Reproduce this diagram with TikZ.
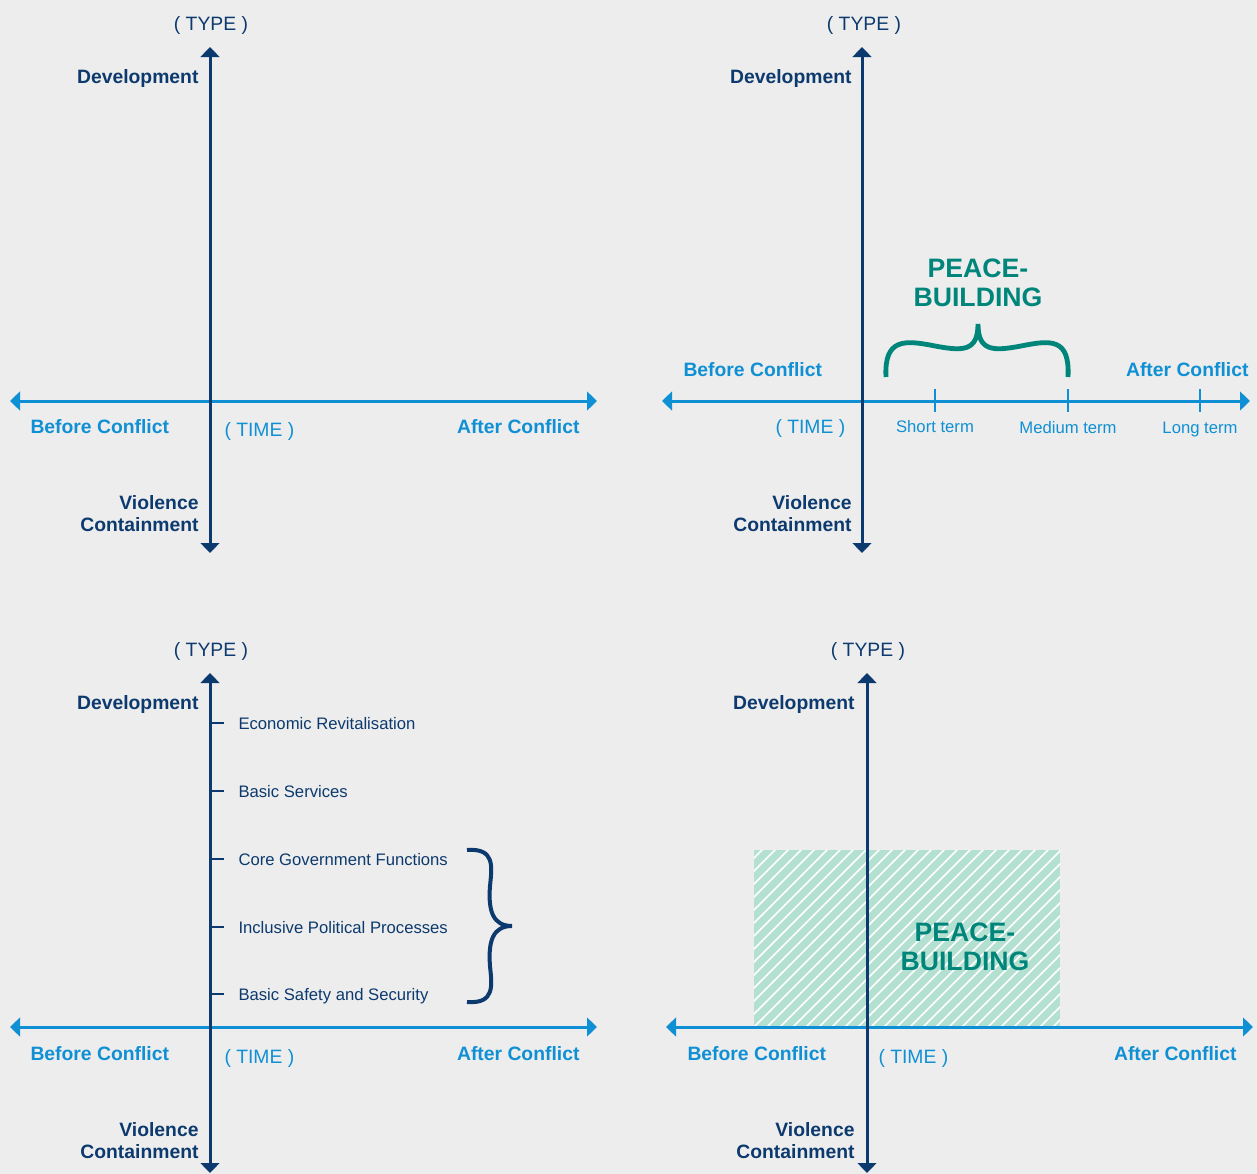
\documentclass[tikz,border=0pt]{standalone}
\usepackage{fontspec}
\setmainfont{Liberation Sans}
\usetikzlibrary{arrows.meta}

\definecolor{navy}{RGB}{13,58,110}
\definecolor{skyblue}{RGB}{16,144,212}
\definecolor{peaceteal}{RGB}{0,133,122}
\definecolor{hatchgreen}{RGB}{180,224,210}
\definecolor{bggray}{RGB}{237,237,237}

\tikzset{every picture/.style={line width=0.75pt}}
\tikzset{
  typeaxis/.style={draw=navy, line width=2.25pt, {Triangle[length=7.5pt,width=14pt]}-{Triangle[length=7.5pt,width=14pt]}},
  timeaxis/.style={draw=skyblue, line width=2.25pt, {Triangle[length=7.5pt,width=14pt]}-{Triangle[length=7.5pt,width=14pt]}},
  typelbl/.style={inner sep=0pt, text=navy, font=\fontsize{14.5}{16}\selectfont\bfseries, align=right},
  timelbl/.style={inner sep=0pt, text=skyblue, font=\fontsize{14.5}{16}\selectfont\bfseries},
  typename/.style={inner sep=0pt, text=navy, font=\fontsize{14.5}{16}\selectfont},
  timename/.style={inner sep=0pt, text=skyblue, font=\fontsize{14.5}{16}\selectfont},
  itemlbl/.style={inner sep=0pt, text=navy, font=\fontsize{12.5}{15}\selectfont},
  termlbl/.style={inner sep=0pt, text=skyblue, font=\fontsize{12.5}{15}\selectfont},
  peacelbl/.style={inner sep=0pt, text=peaceteal, font=\fontsize{20}{21.5}\selectfont\bfseries, align=center},
}

\begin{document}
\begin{tikzpicture}[x=0.75pt,y=0.75pt,yscale=-1,xscale=1]
\useasboundingbox (0,0) rectangle (1257,1174);
\fill [bggray] (0,0) rectangle (1257,1174);

%%%% Top left panel
\coordinate (hlA) at (10,401);
\coordinate (hrA) at (597,401);
\coordinate (vtA) at (210,47);
\coordinate (vbA) at (210,553);
\draw [timeaxis] (hlA) -- (hrA);
\draw [typeaxis] (vtA) -- (vbA);
% Text Node
\node (typeA) at (211,30) [anchor=base, typename] {( TYPE )};
\node (devA) at (199,83) [anchor=base east, typelbl] {Development};
\node (violA) at (199,531) [anchor=base east, typelbl] {Violence\\Containment};
\node (beforeA) at (30,433) [anchor=base west, timelbl] {Before Conflict};
\node (timeA) at (224,436) [anchor=base west, timename] {( TIME )};
\node (afterA) at (580,433) [anchor=base east, timelbl] {After Conflict};

%%%% Top right panel
\coordinate (hlB) at (662,401);
\coordinate (hrB) at (1250,401);
\coordinate (vtB) at (862,47);
\coordinate (vbB) at (862,553);
\draw [timeaxis] (hlB) -- (hrB);
\draw [typeaxis] (vtB) -- (vbB);
%Ticks
\draw [skyblue, line width=1.1pt] (935,389) -- (935,412);
\draw [skyblue, line width=1.1pt] (1068,389) -- (1068,412);
\draw [skyblue, line width=1.1pt] (1200,389) -- (1200,412);
%Brace
\draw [peaceteal, line width=3.6pt] (886,377) .. controls (884,338) and (905,340) .. (935,346) .. controls (962,351) and (978,352) .. (978,324) .. controls (978,352) and (994,351) .. (1021,346) .. controls (1051,340) and (1070,338) .. (1068,377);
% Text Node
\node (typeB) at (864,30) [anchor=base, typename] {( TYPE )};
\node (devB) at (852,83) [anchor=base east, typelbl] {Development};
\node (violB) at (852,531) [anchor=base east, typelbl] {Violence\\Containment};
\node (beforeB) at (683,376) [anchor=base west, timelbl] {Before Conflict};
\node (timeB) at (775,433) [anchor=base west, timename] {( TIME )};
\node (afterB) at (1249,376) [anchor=base east, timelbl] {After Conflict};
\node (shortB) at (935,432) [anchor=base, termlbl] {Short term};
\node (mediumB) at (1068,433) [anchor=base, termlbl] {Medium term};
\node (longB) at (1200,433) [anchor=base, termlbl] {Long term};
\node (peaceB) at (978,306) [anchor=base, peacelbl] {PEACE-\\BUILDING};

%%%% Bottom left panel
\coordinate (hlC) at (10,1027);
\coordinate (hrC) at (597,1027);
\coordinate (vtC) at (210,673);
\coordinate (vbC) at (210,1173);
\draw [timeaxis] (hlC) -- (hrC);
\draw [typeaxis] (vtC) -- (vbC);
%Ticks
\draw [navy, line width=1.1pt] (212,723) -- (224,723);
\draw [navy, line width=1.1pt] (212,791) -- (224,791);
\draw [navy, line width=1.1pt] (212,859) -- (224,859);
\draw [navy, line width=1.1pt] (212,927) -- (224,927);
\draw [navy, line width=1.1pt] (212,994) -- (224,994);
%Brace
\draw [navy, line width=3pt] (467,850) .. controls (495,848) and (492,866) .. (490,886) .. controls (488,911) and (493,926) .. (512,926) .. controls (493,926) and (488,941) .. (490,966) .. controls (492,986) and (495,1004) .. (467,1002);
% Text Node
\node (typeC) at (211,656) [anchor=base, typename] {( TYPE )};
\node (devC) at (199,709) [anchor=base east, typelbl] {Development};
\node (violC) at (199,1158) [anchor=base east, typelbl] {Violence\\Containment};
\node (beforeC) at (30,1060) [anchor=base west, timelbl] {Before Conflict};
\node (timeC) at (224,1063) [anchor=base west, timename] {( TIME )};
\node (afterC) at (580,1060) [anchor=base east, timelbl] {After Conflict};
\node (econC) at (238,729) [anchor=base west, itemlbl] {Economic Revitalisation};
\node (servC) at (238,797) [anchor=base west, itemlbl] {Basic Services};
\node (coreC) at (238,865) [anchor=base west, itemlbl] {Core Government Functions};
\node (inclC) at (238,933) [anchor=base west, itemlbl] {Inclusive Political Processes};
\node (safeC) at (238,1000) [anchor=base west, itemlbl] {Basic Safety and Security};

%%%% Bottom right panel
%Hatched area
\fill [hatchgreen] (754,850) rectangle (1060,1027);
\begin{scope}
\clip (754,850) rectangle (1060,1027);
\foreach \i in {-182,-169,...,310}
  \draw [white, line width=1.2pt] (754+\i,1027) -- ++(182,-182);
\end{scope}
\coordinate (hlD) at (666,1027);
\coordinate (hrD) at (1253,1027);
\coordinate (vtD) at (867,673);
\coordinate (vbD) at (867,1173);
\draw [timeaxis] (hlD) -- (hrD);
\draw [typeaxis] (vtD) -- (vbD);
% Text Node
\node (typeD) at (868,656) [anchor=base, typename] {( TYPE )};
\node (devD) at (855,709) [anchor=base east, typelbl] {Development};
\node (violD) at (855,1158) [anchor=base east, typelbl] {Violence\\Containment};
\node (beforeD) at (687,1060) [anchor=base west, timelbl] {Before Conflict};
\node (timeD) at (878,1063) [anchor=base west, timename] {( TIME )};
\node (afterD) at (1237,1060) [anchor=base east, timelbl] {After Conflict};
\node (peaceD) at (965,970) [anchor=base, peacelbl] {PEACE-\\BUILDING};

\end{tikzpicture}
\end{document}
